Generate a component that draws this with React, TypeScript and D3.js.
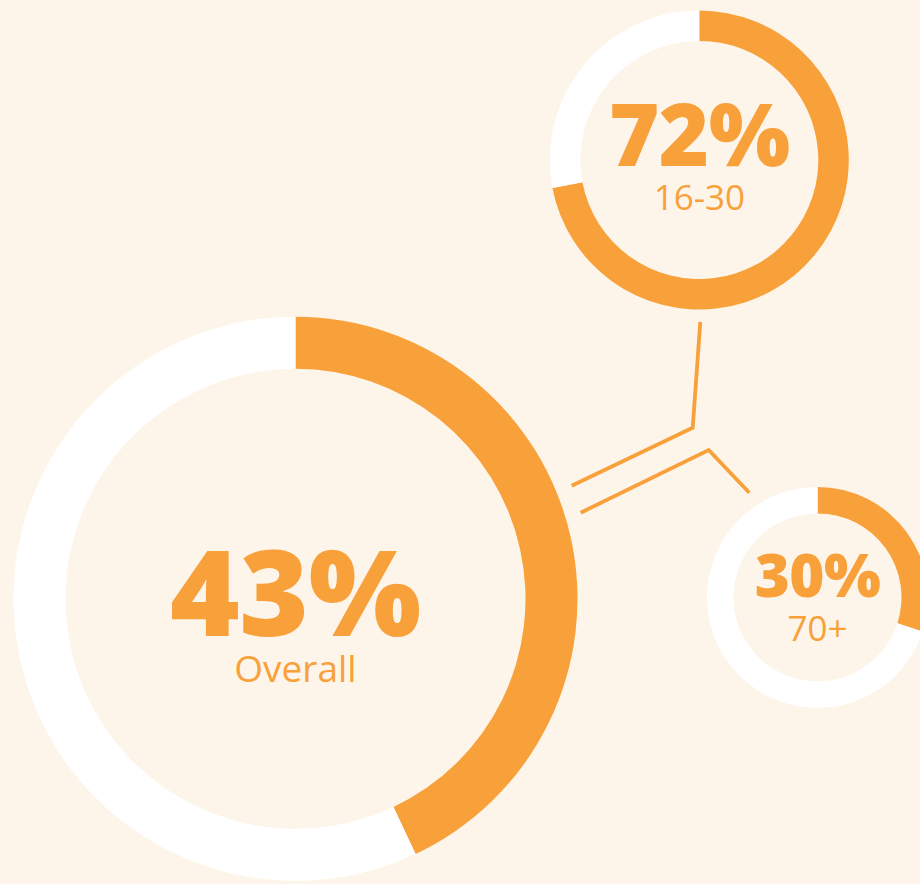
import React from "react";
import * as d3 from "d3";

const categories = ["Overall", "16-30", "70+"];
const shares = [43, 72, 30];
const valueLabels = ["43%", "72%", "30%"];

const W = 920;
const H = 884;
const ORANGE = "#F8A13B";
const BG = "#FEF5EA";

const layout = [
  { cx: 295.5, cy: 598.8, ro: 282, ri: 230, big: 119, bigY: 636, small: 37, smallY: 682 },
  { cx: 699.3, cy: 160, ro: 149.5, ri: 119, big: 86, bigY: 166, small: 35, smallY: 210 },
  { cx: 817.5, cy: 597.4, ro: 110.5, ri: 84, big: 60, bigY: 597, small: 35, smallY: 641 },
];

const connectors: [number, number][][] = [
  [[700.3, 322], [692.7, 427.7], [571.7, 485.7]],
  [[580.7, 512.7], [708.7, 450], [749.3, 492.7]],
];

export default function App() {
  const pie = d3.pie<number>().sort(null).value((d) => d);
  const line = d3.line();
  return (
    <svg
      width={W}
      height={H}
      style={{ position: "absolute", left: 0, top: 0, display: "block", background: BG }}
    >
      <rect width={W} height={H} fill={BG} />
      {connectors.map((pts, i) => (
        <path
          key={"c" + i}
          d={line(pts) || ""}
          fill="none"
          stroke={ORANGE}
          strokeWidth={3.8}
          strokeLinejoin="miter"
        />
      ))}
      {shares.map((v, i) => {
        const L = layout[i];
        const arcs = pie([v, 100 - v]);
        const arc = d3.arc<d3.PieArcDatum<number>>().innerRadius(L.ri).outerRadius(L.ro);
        return (
          <g key={categories[i]} transform={`translate(${L.cx},${L.cy})`}>
            {arcs.map((a, j) => (
              <path key={j} d={arc(a) || ""} fill={j === 0 ? ORANGE : "#FFFFFF"} />
            ))}
            <text
              x={0}
              y={L.bigY - L.cy}
              textAnchor="middle"
              fill={ORANGE}
              fontFamily="'Open Sans', sans-serif"
              fontWeight={800}
              fontSize={L.big}
              letterSpacing={-0.5}
            >
              {valueLabels[i]}
            </text>
            <text
              x={0}
              y={L.smallY - L.cy}
              textAnchor="middle"
              fill={ORANGE}
              fontFamily="'Open Sans', sans-serif"
              fontWeight={400}
              fontSize={L.small}
            >
              {categories[i]}
            </text>
          </g>
        );
      })}
    </svg>
  );
}
